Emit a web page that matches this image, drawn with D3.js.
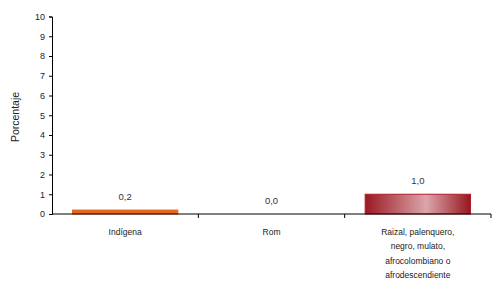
<!DOCTYPE html>
<html>
<head>
<meta charset="utf-8">
<script src="https://cdn.jsdelivr.net/npm/d3@7"></script>
<style>
  body { margin: 0; background: #fff; }
  svg { font-family: "Liberation Sans", Arial, sans-serif; }
</style>
</head>
<body>
<svg id="chart" width="492" height="291"></svg>
<script>
// Data
const categories = ['Indígena', 'Rom', 'Raizal, palenquero, negro, mulato, afrocolombiano o afrodescendiente'];
const labelLines = [
    ['Indígena'],
    ['Rom'],
    ['Raizal, palenquero,', 'negro, mulato,', 'afrocolombiano o', 'afrodescendiente']
];
const values = [0.2, 0.0, 1.0];
const valueLabels = ['0,2', '0,0', '1,0'];
const yTicks = [0, 1, 2, 3, 4, 5, 6, 7, 8, 9, 10];

const svg = d3.select('#chart');
const margin = { top: 16.5, right: 1, bottom: 77, left: 52 };
const width = 492 - margin.left - margin.right;
const height = 291 - margin.top - margin.bottom;

const g = svg.append('g').attr('transform', `translate(${margin.left},${margin.top})`);

// Scales
const xScale = d3.scaleBand().domain(categories).range([0, width]).paddingInner(0.28).paddingOuter(0.14);
const yScale = d3.scaleLinear().domain([0, 10]).range([height, 0]);

// Gradient for the third bar
const defs = svg.append('defs');
const grad = defs.append('linearGradient').attr('id', 'redGrad')
    .attr('x1', '0%').attr('x2', '100%').attr('y1', '0%').attr('y2', '0%');
grad.append('stop').attr('offset', '0%').attr('stop-color', '#9a1822');
grad.append('stop').attr('offset', '58%').attr('stop-color', '#dba6aa');
grad.append('stop').attr('offset', '100%').attr('stop-color', '#961620');

const fills = ['#e8661c', '#e8661c', 'url(#redGrad)'];
const strokes = ['#e8661c', '#e8661c', '#b01c28'];

// Bars
g.selectAll('.bar')
    .data(values)
    .join('rect')
    .attr('class', 'bar')
    .attr('x', (d, i) => xScale(categories[i]))
    .attr('width', xScale.bandwidth())
    .attr('y', d => yScale(d))
    .attr('height', d => height - yScale(d))
    .attr('fill', (d, i) => fills[i])
    .attr('stroke', (d, i) => d > 0 ? strokes[i] : 'none')
    .attr('stroke-width', 1);

// Value labels
g.selectAll('.val')
    .data(values)
    .join('text')
    .attr('class', 'val')
    .attr('x', (d, i) => xScale(categories[i]) + xScale.bandwidth() / 2)
    .attr('y', d => yScale(d) - 10)
    .attr('text-anchor', 'middle')
    .attr('font-size', 9.5)
    .attr('fill', '#333')
    .text((d, i) => valueLabels[i]);

// Y axis
const yAxis = g.append('g')
    .call(d3.axisLeft(yScale).tickValues(yTicks).tickSize(3).tickPadding(4).tickFormat(d3.format('d')));
yAxis.select('.domain').attr('stroke', '#000');
yAxis.selectAll('.tick line').attr('stroke', '#000');
yAxis.selectAll('text').attr('font-size', 9).attr('fill', '#222').attr('font-family', 'Liberation Sans, Arial, sans-serif');

// X axis line with boundary ticks
g.append('line')
    .attr('x1', 0).attr('x2', width)
    .attr('y1', height).attr('y2', height)
    .attr('stroke', '#000');

const step = xScale.step();
const boundaries = categories.map((c, i) => xScale(c) + xScale.bandwidth() + step * xScale.paddingInner() / 2);
g.selectAll('.xtick')
    .data(boundaries)
    .join('line')
    .attr('class', 'xtick')
    .attr('x1', d => d).attr('x2', d => d)
    .attr('y1', height).attr('y2', height + 4)
    .attr('stroke', '#000');

// Category labels
const catText = g.selectAll('.cat')
    .data(labelLines)
    .join('text')
    .attr('class', 'cat')
    .attr('text-anchor', 'middle')
    .attr('font-size', 8.5)
    .attr('fill', '#222');
catText.selectAll('tspan')
    .data((lines, i) => lines.map(l => ({ l, i })))
    .join('tspan')
    .attr('x', d => xScale(categories[d.i]) + xScale.bandwidth() / 2)
    .attr('y', (d, j) => height + 21 + j * 14.3)
    .text(d => d.l);

// Y axis title
svg.append('text')
    .attr('transform', `translate(19,117) rotate(-90)`)
    .attr('text-anchor', 'middle')
    .attr('font-size', 10.5)
    .attr('fill', '#222')
    .text('Porcentaje');
</script>
</body>
</html>
